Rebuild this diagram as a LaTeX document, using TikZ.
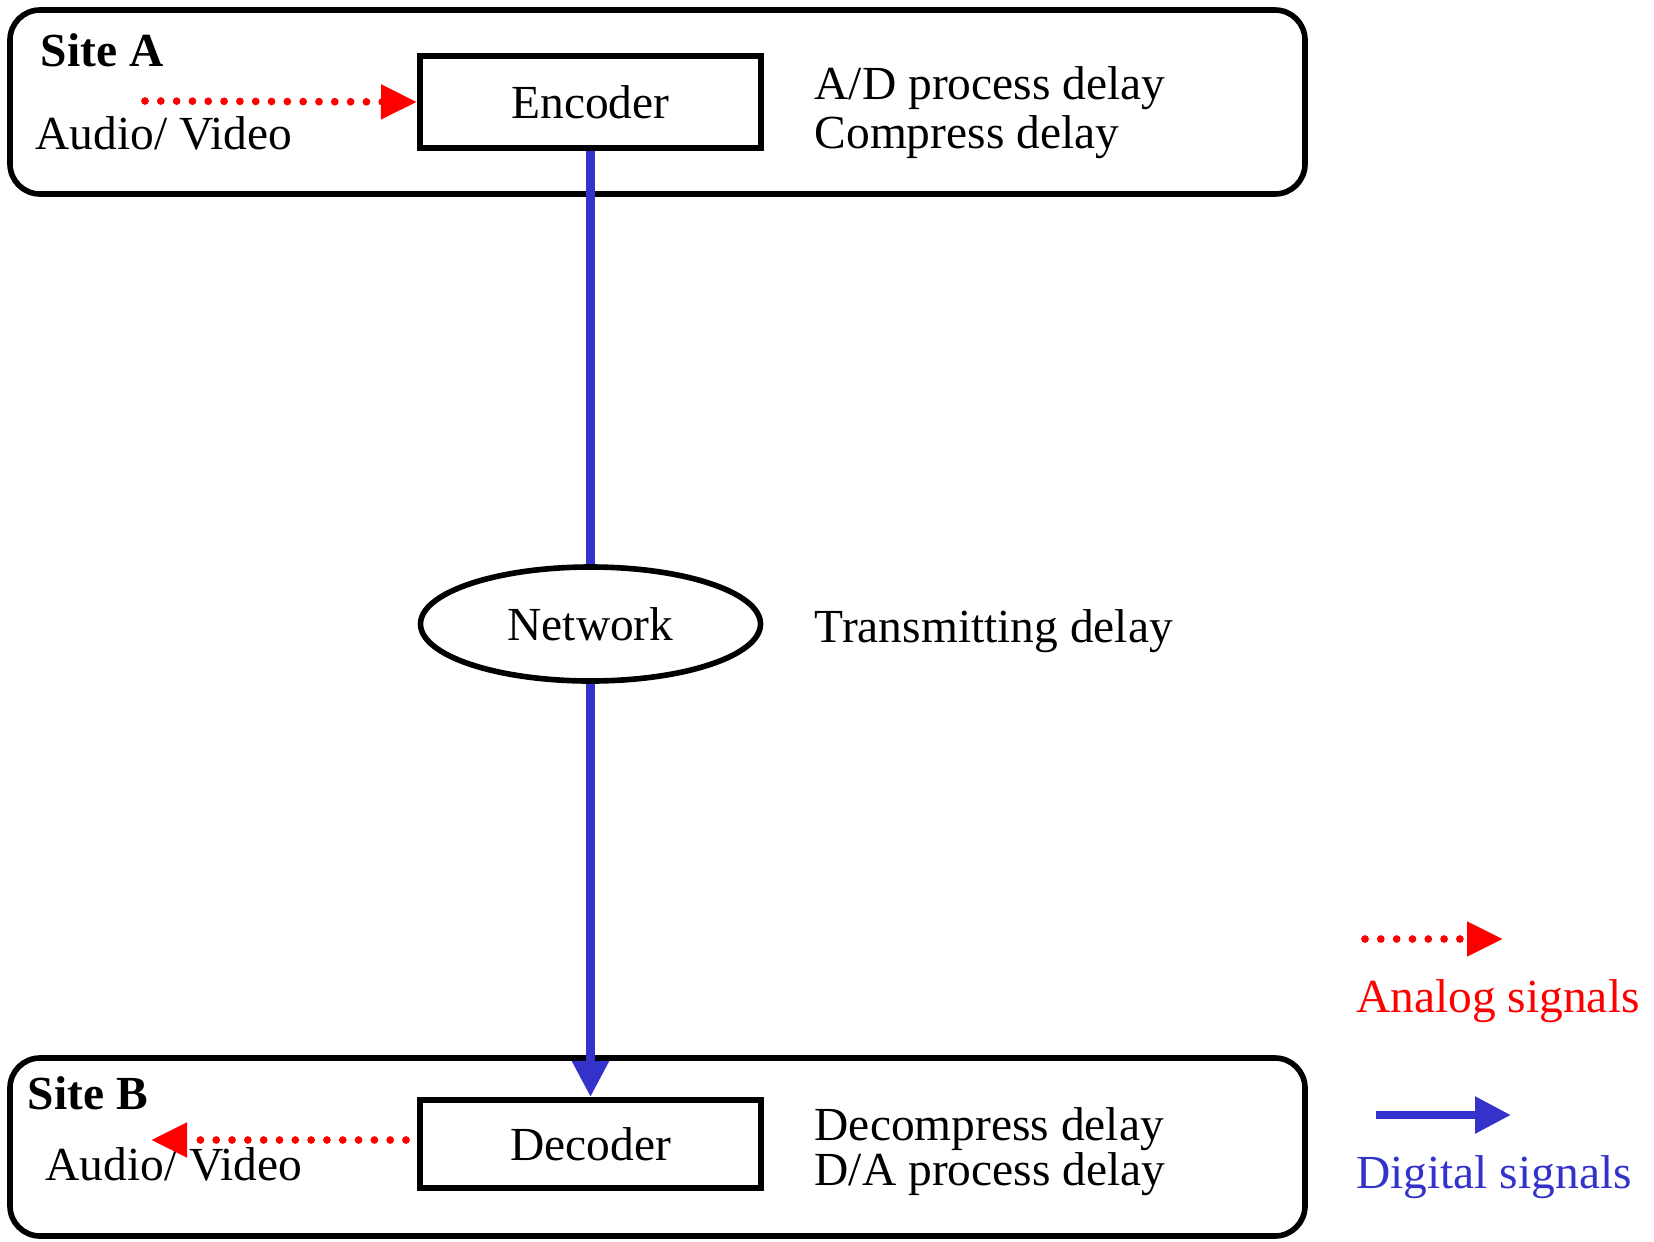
\documentclass[tikz,border=0pt]{standalone}
\usepackage{fontspec}
\setmainfont{Liberation Serif}
\usetikzlibrary{arrows.meta,shapes.geometric}
\definecolor{digblue}{RGB}{51,51,204}
\tikzset{
  sitebox/.style={draw,line width=1.6pt,rounded corners=0.3cm,inner sep=0pt},
  codec/.style={draw,line width=1.7pt,minimum width=3.41cm,inner sep=0pt},
  netnode/.style={draw,ellipse,line width=1.6pt,minimum width=3.4cm,minimum height=1.14cm,inner sep=0pt},
  txt/.style={anchor=west,inner sep=0pt},
  analog/.style={red,line width=2.2pt,dash pattern=on 0pt off 4.5pt,line cap=round,
    -{Triangle[length=3.6mm,width=3.3mm]}},
  digital/.style={digblue,line width=2.4pt,-{Triangle[length=3.6mm,width=3.5mm]}}
}
\begin{document}
\begin{tikzpicture}[font=\fontsize{13.5}{14}\selectfont]
            \useasboundingbox (0,0) rectangle (16.54,-12.41);
            \node[sitebox,minimum width=12.95cm,minimum height=1.84cm] (siteA) at (6.575,-1.02) {};
            \node[sitebox,minimum width=12.95cm,minimum height=1.78cm] (siteB) at (6.575,-11.47) {};
            \node[codec,minimum height=0.92cm] (enc) at (5.905,-1.02) {Encoder};
            \node[netnode] (net) at (5.905,-6.24) {Network};
            \node[codec,minimum height=0.88cm] (dec) at (5.905,-11.44) {Decoder};
        %
            \node[txt,font=\fontsize{13.5}{14}\selectfont\bfseries] (siteAlbl) at (0.40,-0.50) {Site A};
            \node[txt] (avA) at (0.35,-1.33) {Audio/ Video};
            \node[txt] (adDelay) at (8.14,-0.88) {A/D process delay};
            \node[txt] (compDelay) at (8.14,-1.37) {Compress delay};
            \node[txt] (transDelay) at (8.14,-6.31) {Transmitting delay};
            \node[txt,font=\fontsize{13.5}{14}\selectfont\bfseries] (siteBlbl) at (0.27,-10.93) {Site B};
            \node[txt] (avB) at (0.45,-11.64) {Audio/ Video};
            \node[txt] (decompDelay) at (8.14,-11.29) {Decompress delay};
            \node[txt] (daDelay) at (8.14,-11.74) {D/A process delay};
        %
            \coordinate (inA) at (1.45,-1.01);
            \coordinate (outB) at (1.51,-11.40);
            \draw[analog] (inA) -- (enc.west);
            \draw[analog,shorten <=1.1mm] (dec.west |- outB) -- (outB);
            \draw[digblue,line width=2.4pt] (enc.south) -- (net.north);
            \draw[digital] (net.south) -- (dec.north);
        %
            \coordinate (anS) at (13.65,-9.39);
            \coordinate (anE) at (15.03,-9.39);
            \coordinate (diS) at (13.76,-11.15);
            \coordinate (diE) at (15.11,-11.15);
            \draw[analog] (anS) -- (anE);
            \draw[digital] (diS) -- (diE);
            \node[red,inner sep=0pt] (anLbl) at (14.98,-10.01) {Analog signals};
            \node[digblue,inner sep=0pt] (diLbl) at (14.94,-11.77) {Digital signals};
        \end{tikzpicture}
\end{document}
